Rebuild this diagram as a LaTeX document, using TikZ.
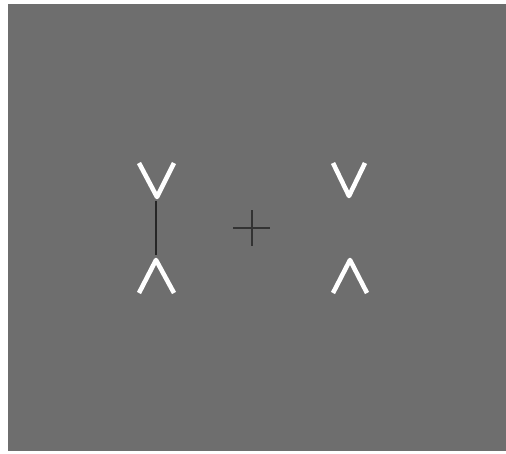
\documentclass[tikz,border=0pt]{standalone}
\usetikzlibrary{calc}

\tikzset{
  chevron/.style={draw=white, line width=2.6pt, line join=round},
  fixmark/.style={draw=black!80, line width=1.4pt},
  cueline/.style={draw=black!85, line width=1.6pt}
}

\begin{document}
\begin{tikzpicture}[x=0.02cm, y=-0.02cm]

\useasboundingbox (0, 0) rectangle (506, 453);
\fill [black!57] (8, 4) rectangle (506, 451);

% left pair
\draw [chevron] (139, 163) -- (157, 197) -- (174, 163);
\draw [chevron] (139, 293) -- (156, 260) -- (174, 293);
\draw [cueline] (156, 201) -- (156, 255);

% fixation cross
\draw [fixmark] (233, 228) -- (270, 228);
\draw [fixmark] (252, 210) -- (252, 246);

% right pair
\draw [chevron] (333, 163) -- (349, 196) -- (365, 163);
\draw [chevron] (333, 293) -- (350, 260) -- (367, 293);

\end{tikzpicture}
\end{document}
